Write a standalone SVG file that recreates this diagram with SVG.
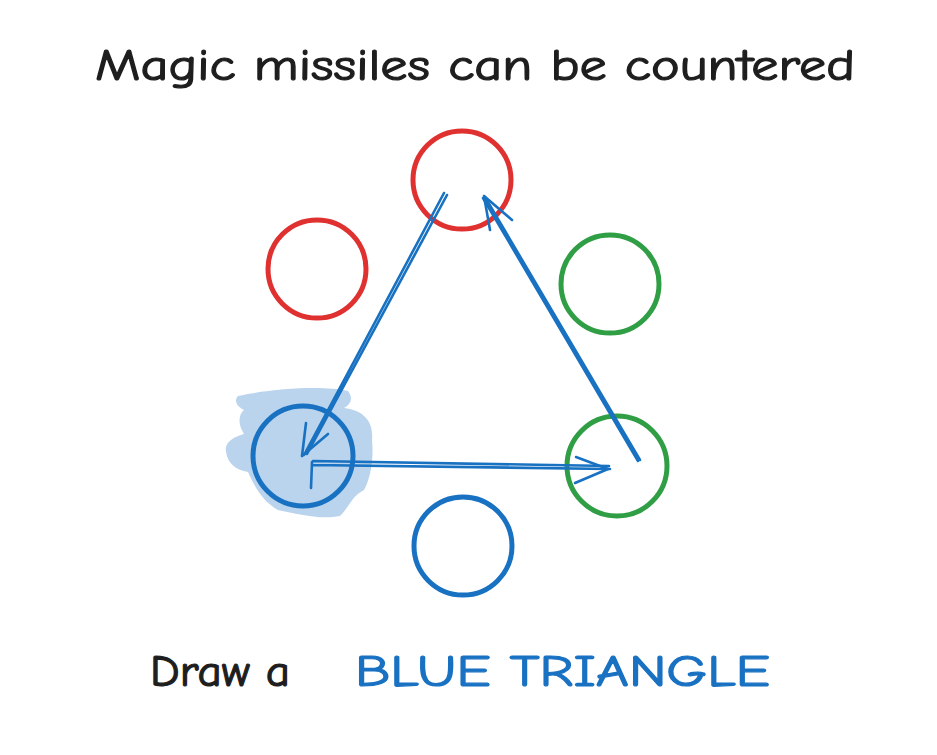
<svg xmlns="http://www.w3.org/2000/svg" width="937" height="755" viewBox="0 0 937 755">
<defs>
<style>
.ring{fill:none;stroke-width:5;stroke-linecap:round}
.red{stroke:#e03131}
.green{stroke:#2f9e44}
.blue{stroke:#1971c2}
.arr{fill:none;stroke:#1971c2;stroke-width:2.6;stroke-linecap:round;stroke-linejoin:round}
.txt{font-family:"Comic Neue","Liberation Sans",sans-serif;font-size:44px;stroke-width:1.2;stroke-linejoin:round}
</style>
</defs>
<rect width="937" height="755" fill="#ffffff"/>
<text class="txt" x="95" y="80" fill="#1e1e1e" stroke="#1e1e1e" textLength="760" lengthAdjust="spacingAndGlyphs">Magic missiles can be countered</text>
<g id="highlight">
<path d="M238,396 C270,389 322,385 348,391 C354,399 350,405 344,408 C362,410 374,420 372,440 C374,460 370,480 364,490 C352,496 350,506 340,516 C320,520 298,514 278,510 C264,502 256,490 248,472 C236,470 228,464 226,452 C224,440 238,436 244,434 C238,425 238,415 244,410 C236,406 234,400 238,396 Z" fill="#1971c2" fill-opacity="0.3"/>
</g>
<g id="node-red-top"><circle class="ring red" cx="462" cy="180" r="49"/></g>
<g id="node-red-left"><circle class="ring red" cx="317" cy="269" r="49"/></g>
<g id="node-green-top"><circle class="ring green" cx="610" cy="284" r="49"/></g>
<g id="node-blue-left"><circle class="ring blue" cx="303" cy="456" r="50"/></g>
<g id="node-green-right"><circle class="ring green" cx="617" cy="466" r="50"/></g>
<g id="node-blue-bottom"><circle class="ring blue" cx="463" cy="546" r="49"/></g>
<g id="connectors">
<path class="arr" d="M444,193 L304,455 M447,195 L307,454"/>
<path class="arr" d="M302,456 L306,423 M302,456 L328,434"/>
<path class="arr" d="M311,488 L312,462 M313,461 L609,466 M313,465 L610,469"/>
<path class="arr" d="M608,469 L576,457 M608,469 L575,483"/>
<path class="arr" d="M640,460 L485,197 M638,461 L483,198"/>
<path class="arr" d="M484,196 L490,230 M484,196 L512,220"/>
</g>
<text class="txt" x="150" y="686" fill="#1e1e1e" stroke="#1e1e1e" textLength="140" lengthAdjust="spacingAndGlyphs">Draw a</text>
<text class="txt" x="355" y="686" fill="#1971c2" stroke="#1971c2" textLength="415" lengthAdjust="spacingAndGlyphs">BLUE TRIANGLE</text>
</svg>
